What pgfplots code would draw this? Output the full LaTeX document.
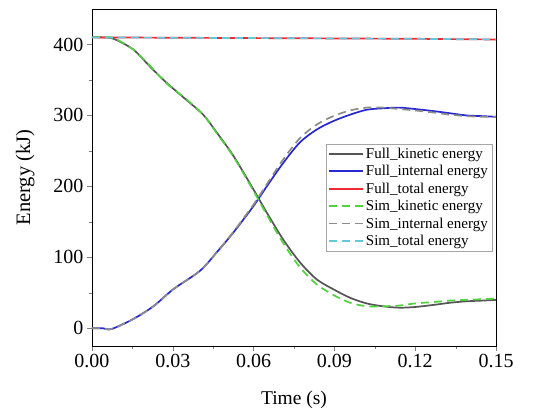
\documentclass[border=0pt]{standalone}
\usepackage{pgfplots}
\pgfplotsset{compat=1.18}
\usepackage{fontspec}
\setmainfont{Liberation Serif}

\definecolor{fullkin}{RGB}{85,85,85}
\definecolor{fullint}{RGB}{40,40,210}
\definecolor{fulltot}{RGB}{240,40,50}
\definecolor{simkin}{RGB}{80,210,60}
\definecolor{simint}{RGB}{140,140,140}
\definecolor{simtot}{RGB}{100,200,220}

\begin{document}
\begin{tikzpicture}
\begin{axis}[
  scale only axis,
  width=404pt, height=337pt,
  xmin=0, xmax=0.15, ymin=-25, ymax=450,
  xtick={0,0.03,...,0.15}, ytick={0,100,...,400},
  minor x tick num=1, minor y tick num=1,
  tick align=outside, tick pos=left,
  major tick length=5pt, minor tick length=3pt,
  xticklabel style={/pgf/number format/.cd,fixed,fixed zerofill,precision=2},
  /pgf/number format/assume math mode=true,
  scaled x ticks=false,
  tick label style={font=\fontsize{20}{21}\selectfont},
  xlabel={Time (s)}, ylabel={Energy (kJ)},
  xlabel style={font=\fontsize{19.5}{20}\selectfont,at={(axis description cs:0.5,-0.16)},anchor=center},
  ylabel style={font=\fontsize{20.5}{21}\selectfont,at={(axis description cs:-0.165,0.5)},anchor=center},
  legend style={at={(0.99,0.6)},anchor=north east,draw=gray!70,
    font=\fontsize{15}{16}\selectfont,row sep=1.5pt,inner sep=2pt},
  legend cell align=left,
  legend image code/.code={\draw[#1,line width=1.8pt] (0pt,0pt) -- (34pt,0pt);},
]
\addplot[fullkin,line width=1.7pt,smooth] coordinates {
(0,410) (0.004,410) (0.008,408) (0.0153,393) (0.0215,369) (0.0277,346)
(0.035,322) (0.0413,301) (0.0463,276) (0.0525,243) (0.0599,196)
(0.0649,163) (0.071,125) (0.0772,93) (0.0834,69) (0.0896,55)
(0.0958,43) (0.102,35) (0.108,31) (0.114,29) (0.12,30) (0.127,33)
(0.133,36) (0.139,38) (0.145,39) (0.15,40)
};
\addlegendentry{Full\_kinetic energy}
\addplot[fullint,line width=1.7pt,smooth] coordinates {
(0,0) (0.004,0) (0.0073,-1) (0.0153,13) (0.0228,31) (0.0302,55)
(0.0401,81) (0.0463,107) (0.0525,135) (0.0599,172) (0.0649,200)
(0.071,233) (0.0772,262) (0.0834,280) (0.0896,292) (0.0958,301)
(0.102,308) (0.108,310) (0.114,311) (0.12,309) (0.127,306)
(0.133,303) (0.139,300) (0.145,299) (0.15,298)
};
\addlegendentry{Full\_internal energy}
\addplot[fulltot,line width=1.7pt] coordinates {
(0,410) (0.03,409.5) (0.06,409) (0.09,408.5) (0.12,408) (0.15,407)
};
\addlegendentry{Full\_total energy}
\addplot[simkin,line width=1.7pt,smooth,dash pattern=on 8pt off 5pt] coordinates {
(0,410) (0.004,410) (0.008,409) (0.0153,393) (0.0215,370) (0.0277,345)
(0.035,323) (0.0413,301) (0.0463,275) (0.0525,242) (0.0599,194)
(0.0649,160) (0.071,120) (0.0772,86) (0.0834,62) (0.0896,47)
(0.0958,36) (0.102,31) (0.108,31) (0.114,32) (0.12,35) (0.127,37)
(0.133,39) (0.139,40) (0.145,41) (0.15,42)
};
\addlegendentry{Sim\_kinetic energy}
\addplot[simint,line width=1.7pt,smooth,dash pattern=on 8pt off 5pt] coordinates {
(0,0) (0.004,0) (0.0073,-1) (0.0153,13) (0.0228,31) (0.0302,55)
(0.0401,81) (0.0463,107) (0.0525,136) (0.0599,174) (0.0649,203)
(0.071,238) (0.0772,268) (0.0834,287) (0.0896,299) (0.0958,307)
(0.102,311) (0.108,311) (0.114,309) (0.12,307) (0.127,304)
(0.133,301) (0.139,299) (0.145,298) (0.15,298)
};
\addlegendentry{Sim\_internal energy}
\addplot[simtot,line width=1.7pt,dash pattern=on 8pt off 5pt] coordinates {
(0,410) (0.03,409.5) (0.06,409) (0.09,408.5) (0.12,408) (0.15,407)
};
\addlegendentry{Sim\_total energy}
\end{axis}
\pgfresetboundingbox
\path[use as bounding box] (-92pt,-69pt) rectangle (449pt,346pt);
\end{tikzpicture}
\end{document}
